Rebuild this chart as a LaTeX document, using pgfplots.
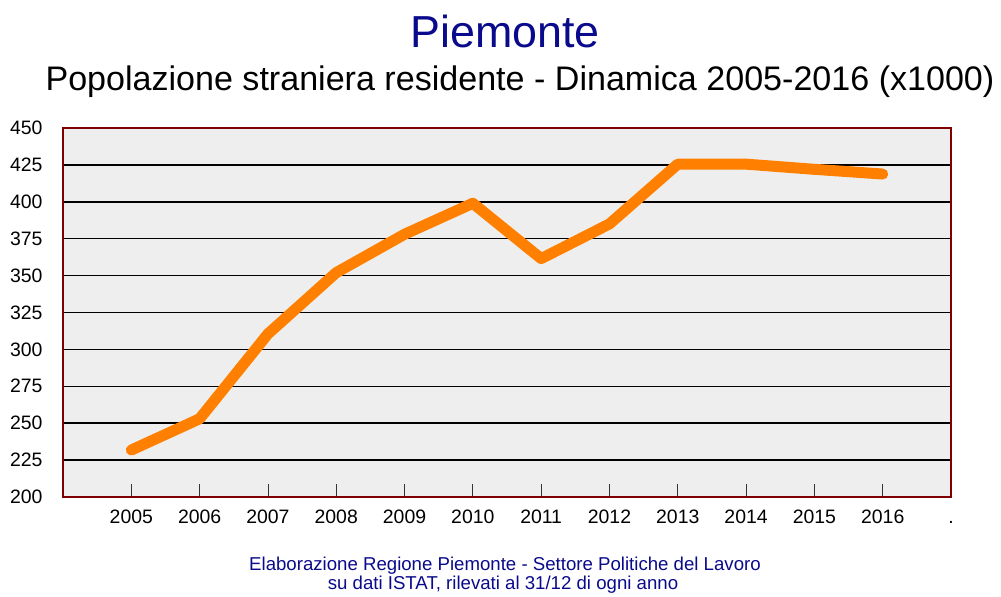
\documentclass[border=0pt]{standalone}
\usepackage{pgfplots}
\pgfplotsset{compat=1.18}
\usepackage{fontspec}
\setmainfont{Liberation Sans}
\definecolor{framecol}{HTML}{800000}
\definecolor{bgcol}{HTML}{EEEEEE}
\definecolor{linecol}{HTML}{FF8000}
\definecolor{navycol}{HTML}{0A0A8C}
\begin{document}
\begin{tikzpicture}[x=1bp,y=1bp]
\useasboundingbox (0,0) rectangle (1001,597);
\begin{axis}[
  at={(63bp,100bp)}, anchor=south west,
  scale only axis, width=888bp, height=369bp,
  xmin=0, xmax=13, ymin=200, ymax=450,
  xtick={1,2,3,4,5,6,7,8,9,10,11,12,13},
  xticklabels={2005,2006,2007,2008,2009,2010,2011,2012,2013,2014,2015,2016,.},
  ytick={200,225,250,275,300,325,350,375,400,425,450},
  xtick pos=bottom, ytick pos=left,
  ymajorgrids,
  grid style={black, line width=1.5bp},
  axis background/.style={fill=bgcol},
  axis line style={framecol, line width=2bp},
  tick align=inside, major tick length=13bp,
  xtick style={black!80, line width=0.8bp},
  ytick style={draw=none},
  tick label style={font=\fontsize{19.5}{19.5}\selectfont},
  /pgf/number format/assume math mode=true,
  xticklabel style={yshift=-9bp, text height=14bp, text depth=0bp},
  yticklabel style={xshift=-17bp},
  clip=false,
]
\addplot[linecol, line width=11bp, line cap=round, line join=round] coordinates {
(1,231.8) (2,253) (3,310.5) (4,352) (5,378) (6,399) (7,361.5) (8,385) (9,425.5) (10,425.5) (11,422) (12,418.8)
};
\end{axis}
\node[anchor=base, text=navycol, font=\fontsize{45}{45}\selectfont] at (505,549) {Piemonte};
\node[anchor=base, text=black, font=\fontsize{34.2}{34.2}\selectfont] at (520,506) {Popolazione straniera residente - Dinamica 2005-2016 (x1000)};
\node[anchor=base, text=navycol, font=\fontsize{18.7}{18.7}\selectfont] at (505,26) {Elaborazione Regione Piemonte - Settore Politiche del Lavoro};
\node[anchor=base, text=navycol, font=\fontsize{18.7}{18.7}\selectfont] at (503,7) {su dati ISTAT, rilevati al 31/12 di ogni anno};
\end{tikzpicture}
\end{document}
